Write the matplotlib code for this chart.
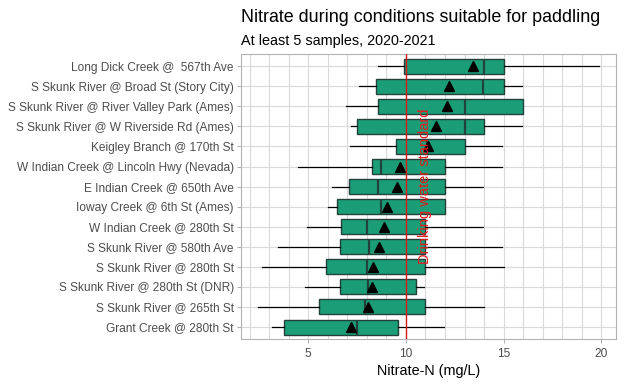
import numpy as np
import matplotlib
matplotlib.use("Agg")
import matplotlib.pyplot as plt

plt.rcParams['font.family'] = ['Liberation Sans', 'DejaVu Sans']

# sites, listed bottom to top
sites = ['Grant Creek @ 280th St',
         'S Skunk River @ 265th St',
         'S Skunk River @ 280th St (DNR)',
         'S Skunk River @ 280th St',
         'S Skunk River @ 580th Ave',
         'W Indian Creek @ 280th St',
         'Ioway Creek @ 6th St (Ames)',
         'E Indian Creek @ 650th Ave',
         'W Indian Creek @ Lincoln Hwy (Nevada)',
         'Keigley Branch @ 170th St',
         'S Skunk River @ W Riverside Rd (Ames)',
         'S Skunk River @ River Valley Park (Ames)',
         'S Skunk River @ Broad St (Story City)',
         'Long Dick Creek @  567th Ave']

whisk_lo = [3.15, 2.45, 4.85, 2.65, 3.45, 4.95, 6.0, 6.2, 4.5, 7.15, 7.2, 6.95, 7.6, 8.55]
q1 = [3.75, 5.55, 6.6, 5.9, 6.6, 6.7, 6.45, 7.1, 8.25, 9.5, 7.5, 8.55, 8.45, 9.9]
medians = [7.5, 7.9, 8.05, 8.0, 8.1, 8.0, 8.75, 8.55, 8.75, 11.1, 13.0, 13.0, 13.95, 14.0]
q3 = [9.6, 11.0, 10.5, 11.0, 11.0, 11.0, 12.0, 12.0, 12.0, 13.0, 14.0, 16.0, 15.0, 15.0]
whisk_hi = [11.95, 14.0, 10.95, 15.0, 14.9, 13.95, 12.0, 13.95, 14.9, 14.9, 15.95, 16.0, 15.95, 19.9]
means = [7.2, 8.05, 8.25, 8.3, 8.6, 8.9, 9.05, 9.55, 9.7, 11.15, 11.55, 12.1, 12.2, 13.45]

stats = []
for i in range(len(sites)):
    stats.append(dict(label=sites[i], whislo=whisk_lo[i], q1=q1[i], med=medians[i],
                      q3=q3[i], whishi=whisk_hi[i], mean=means[i], fliers=[]))

fig = plt.figure(figsize=(6.24, 3.84), dpi=100)
ax = fig.add_axes([0.386, 0.117, 0.601, 0.742])

pos = np.arange(1, len(sites) + 1)
edge = '#24423c'
ax.bxp(stats, positions=pos, widths=0.75, orientation='horizontal',
       patch_artist=True, showcaps=False, showmeans=True,
       boxprops=dict(facecolor='#1b9e77', edgecolor=edge, linewidth=1.0),
       medianprops=dict(color=edge, linewidth=1.6),
       whiskerprops=dict(color='black', linewidth=0.9),
       meanprops=dict(marker='^', markerfacecolor='black', markeredgecolor='black',
                      markersize=7.5))

# drinking water standard line and its label sit on top of the boxes
ax.axvline(10, color='#d7191c', linewidth=1.0, zorder=5)
ax.text(11, 8, 'Drinking water standard', rotation=90, color='#e8191c',
        fontsize=10.5, ha='center', va='center', zorder=6)

ax.set_xlim(1.55, 20.75)
ax.set_ylim(0.4, len(sites) + 0.6)
ax.set_xticks([5, 10, 15, 20])
ax.set_xticks(np.arange(2, 21), minor=True)
ax.set_yticks(pos)
ax.set_yticklabels(sites)
ax.grid(True, which='both', color='#d9d9d9', linewidth=0.8)
ax.set_axisbelow(True)
ax.tick_params(axis='both', which='major', length=3, color='#a0a0a0',
               labelcolor='#4d4d4d', labelsize=8.6, width=0.6)
ax.tick_params(axis='x', which='minor', length=0)
ax.tick_params(axis='y', pad=2)
for s in ax.spines.values():
    s.set_color('#b3b3b3')
    s.set_linewidth(0.8)

ax.set_xlabel('Nitrate-N (mg/L)', fontsize=10.4, labelpad=3)
fig.text(0.386, 0.942, 'Nitrate during conditions suitable for paddling',
         fontsize=12.9, ha='left', va='baseline')
fig.text(0.386, 0.883, 'At least 5 samples, 2020-2021', fontsize=10.4,
         ha='left', va='baseline')

fig.savefig('out.png', dpi=100)
